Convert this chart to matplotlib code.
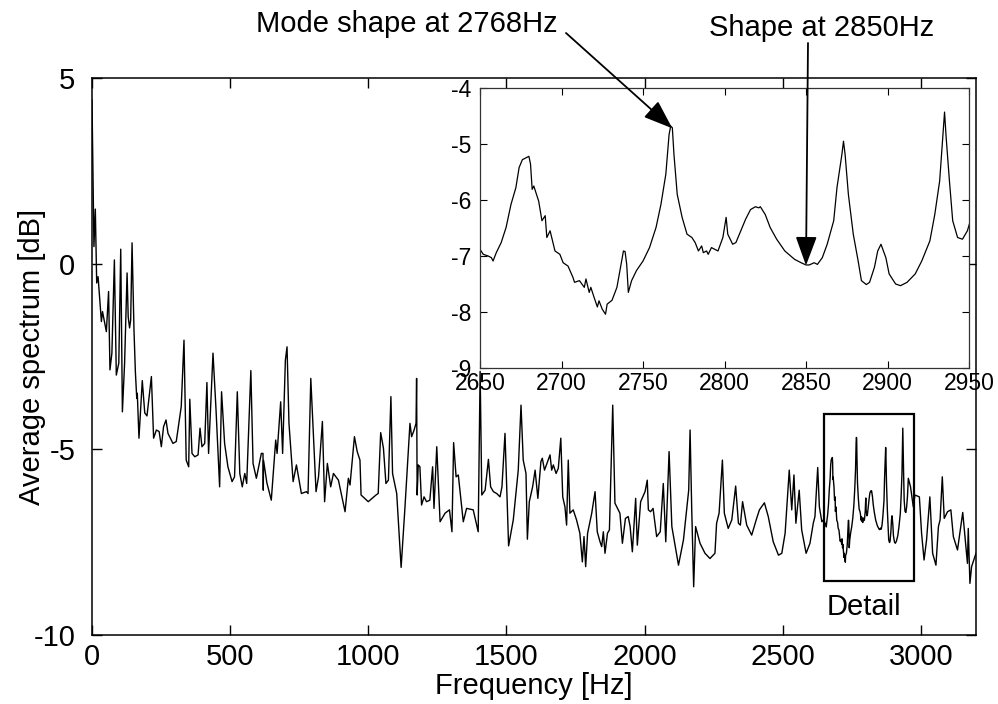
import matplotlib
matplotlib.use("Agg")
import matplotlib.pyplot as plt
from matplotlib.patches import Rectangle

plt.rcParams['font.family'] = ['Liberation Sans', 'DejaVu Sans']
plt.rcParams['axes.unicode_minus'] = False

# averaged spectrum (Hz, dB)
freq = [0, 7, 12, 17, 22, 34, 38, 52, 60, 65, 72, 81, 88, 97, 104, 110, 118, 127, 131, 136,
        140, 145, 152, 157, 162, 164, 170, 182, 191, 199, 215, 223, 233, 243, 251, 259, 268, 275, 293, 305,
        323, 333, 341, 350, 354, 362, 372, 384, 391, 398, 408, 416, 422, 438, 449, 462, 469, 480, 492, 507,
        516, 526, 535, 544, 553, 560, 575, 583, 595, 613, 619, 620, 621, 633, 649, 665, 670, 683, 690, 700,
        706, 713, 728, 740, 758, 776, 782, 792, 811, 820, 834, 842, 852, 864, 874, 892, 916, 928, 934, 950,
        960, 970, 974, 1000, 1028, 1036, 1045, 1055, 1064, 1073, 1082, 1088, 1103, 1119, 1133, 1151, 1157, 1166, 1173, 1175,
        1177, 1181, 1187, 1193, 1202, 1211, 1223, 1233, 1238, 1248, 1260, 1278, 1294, 1303, 1309, 1318, 1326, 1344, 1356, 1380,
        1398, 1405, 1411, 1423, 1435, 1443, 1453, 1465, 1477, 1484, 1495, 1508, 1525, 1543, 1553, 1561, 1571, 1576, 1583, 1595,
        1604, 1614, 1625, 1630, 1638, 1645, 1658, 1664, 1670, 1680, 1688, 1697, 1704, 1712, 1718, 1724, 1730, 1742, 1754, 1766,
        1775, 1781, 1787, 1794, 1809, 1821, 1829, 1839, 1845, 1851, 1857, 1866, 1873, 1885, 1893, 1911, 1920, 1931, 1941, 1948,
        1956, 1968, 1974, 1986, 2002, 2010, 2014, 2022, 2031, 2044, 2057, 2068, 2077, 2089, 2099, 2123, 2141, 2160, 2165, 2171,
        2178, 2185, 2201, 2219, 2237, 2255, 2261, 2270, 2282, 2289, 2303, 2316, 2330, 2340, 2347, 2355, 2370, 2388, 2406, 2416,
        2434, 2448, 2466, 2485, 2497, 2509, 2515, 2524, 2533, 2541, 2548, 2560, 2569, 2585, 2599, 2611, 2617, 2627, 2633, 2642,
        # detail region 2650-2950
        2650, 2652, 2655, 2657, 2658, 2660, 2663, 2666, 2669, 2672, 2674, 2676, 2678, 2680, 2681, 2682, 2683, 2686, 2688, 2690,
        2691, 2693, 2696, 2699, 2701, 2704, 2707, 2708, 2711, 2714, 2715, 2717, 2718, 2720, 2722, 2723, 2725, 2727, 2728, 2731,
        2734, 2736, 2738, 2739, 2740, 2741, 2743, 2746, 2750, 2754, 2758, 2761, 2764, 2766, 2767, 2768, 2769, 2771, 2774, 2777,
        2780, 2782, 2784, 2786, 2787, 2789, 2790, 2792, 2794, 2796, 2799, 2801, 2802, 2805, 2807, 2810, 2813, 2816, 2819, 2821,
        2822, 2825, 2828, 2832, 2837, 2843, 2847, 2850, 2852, 2855, 2857, 2860, 2863, 2867, 2869, 2872, 2873, 2874, 2876, 2879,
        2882, 2884, 2887, 2889, 2892, 2894, 2896, 2899, 2901, 2905, 2908, 2912, 2917, 2921, 2926, 2929, 2932, 2934, 2935, 2936,
        2938, 2940, 2943, 2946, 2949, 2952,
        2955, 2963, 2973, 2979, 2995, 3003, 3012, 3021, 3033, 3043, 3055, 3064, 3070, 3078, 3085, 3097, 3109, 3118, 3133, 3152,
        3160, 3169, 3172, 3178, 3184, 3200]

spec = [4.41, 0.46, 1.47, -0.52, -0.35, -1.56, -1.29, -1.83, -0.75, -2.86, -2.41, 0.10, -3.00, -2.68, 0.39, -3.99, -2.68, -0.25, -1.43, -1.73,
        -1.52, 0.56, -1.79, -2.91, -3.63, -3.49, -4.70, -3.15, -4.02, -4.10, -3.04, -4.70, -4.48, -4.52, -4.93, -4.39, -4.21, -4.57, -4.84, -4.79,
        -3.85, -2.06, -5.29, -5.47, -3.65, -5.11, -5.20, -5.15, -4.43, -4.93, -4.84, -3.20, -5.11, -2.41, -3.94, -6.01, -3.45, -4.84, -5.47, -5.87,
        -5.74, -3.45, -5.65, -6.01, -5.65, -5.92, -2.88, -5.38, -5.78, -5.11, -5.11, -6.10, -5.30, -5.90, -6.37, -4.75, -5.11, -3.72, -5.11, -2.60,
        -2.24, -4.30, -5.87, -5.42, -6.19, -6.14, -6.19, -3.09, -6.14, -5.74, -4.25, -6.41, -5.38, -6.01, -5.65, -5.83, -6.68, -5.78, -5.96, -4.66,
        -5.06, -5.29, -6.23, -6.41, -6.23, -6.19, -4.55, -4.97, -5.92, -5.83, -3.58, -5.65, -6.19, -8.18, -6.55, -4.30, -4.66, -4.48, -4.30, -3.09,
        -6.23, -5.42, -5.47, -6.50, -6.28, -6.41, -6.37, -5.47, -6.59, -4.93, -6.95, -6.72, -6.63, -7.22, -4.82, -5.74, -5.69, -6.95, -6.59, -6.63,
        -7.22, -2.90, -6.23, -6.10, -5.27, -6.01, -6.14, -6.19, -6.28, -6.01, -4.57, -7.60, -6.90, -5.56, -3.81, -5.29, -5.65, -7.42, -6.41, -6.01,
        -5.56, -6.32, -5.33, -5.24, -5.56, -5.42, -5.15, -5.56, -5.42, -5.65, -5.51, -4.70, -6.28, -6.55, -7.04, -5.29, -6.72, -6.63, -6.90, -7.26,
        -8.03, -7.35, -8.16, -7.26, -6.72, -6.14, -7.22, -7.49, -7.62, -7.22, -7.80, -7.26, -7.17, -3.81, -6.45, -6.72, -7.53, -6.86, -6.81, -7.08,
        -7.76, -6.32, -7.58, -6.41, -6.14, -5.83, -6.63, -6.68, -6.59, -7.35, -7.22, -5.92, -7.49, -5.06, -7.08, -8.12, -7.44, -6.10, -4.48, -6.63,
        -8.70, -7.08, -7.53, -7.80, -7.94, -7.80, -6.99, -6.72, -5.29, -6.72, -7.13, -6.90, -5.99, -6.99, -7.04, -6.41, -7.04, -7.31, -6.86, -6.63,
        -6.44, -6.81, -7.49, -7.85, -7.80, -7.26, -6.59, -5.56, -6.63, -5.69, -6.99, -6.10, -7.17, -7.80, -7.53, -6.99, -6.81, -5.49, -6.55, -6.95,
        -6.88, -6.97, -7.00, -7.03, -7.09, -6.94, -6.76, -6.49, -6.08, -5.78, -5.42, -5.28, -5.25, -5.22, -5.36, -5.81, -5.75, -6.02, -6.37, -6.28,
        -6.67, -6.55, -6.91, -6.97, -7.12, -7.18, -7.38, -7.47, -7.44, -7.56, -7.41, -7.65, -7.56, -7.74, -7.91, -7.80, -7.95, -8.04, -7.86, -7.79,
        -7.56, -7.23, -6.91, -6.92, -7.15, -7.65, -7.44, -7.26, -7.09, -6.85, -6.49, -6.08, -5.54, -4.83, -4.68, -4.71, -5.19, -5.90, -6.31, -6.61,
        -6.67, -6.76, -6.91, -6.82, -6.94, -6.91, -6.97, -6.85, -6.88, -6.91, -6.67, -6.31, -6.61, -6.79, -6.76, -6.55, -6.34, -6.17, -6.12, -6.14,
        -6.12, -6.26, -6.49, -6.70, -6.91, -7.06, -7.12, -7.16, -7.16, -7.12, -7.15, -7.03, -6.79, -6.37, -5.78, -5.19, -4.95, -5.19, -5.90, -6.61,
        -7.09, -7.44, -7.51, -7.47, -7.20, -6.91, -6.79, -7.03, -7.32, -7.50, -7.53, -7.47, -7.32, -7.09, -6.73, -6.26, -5.66, -4.83, -4.43, -4.89,
        -5.66, -6.37, -6.67, -6.70, -6.55, -6.26,
        -5.78, -6.01, -6.55, -6.23, -6.28, -7.26, -7.98, -7.44, -6.28, -7.80, -8.12, -7.08, -6.90, -5.74, -6.86, -6.68, -6.63, -7.35, -7.71, -6.70,
        -7.35, -8.07, -7.13, -8.61, -8.16, -7.80]

x_ticks = [0, 500, 1000, 1500, 2000, 2500, 3000]
y_ticks = [-10, -5, 0, 5]
inset_x_ticks = [2650, 2700, 2750, 2800, 2850, 2900, 2950]
inset_y_ticks = [-9, -8, -7, -6, -5, -4]

W, H = 998, 704
fig = plt.figure(figsize=(W / 100, H / 100), dpi=100)

# main axes
ax = fig.add_axes([92 / W, 1 - 635 / H, 884 / W, 557 / H])
ax.plot(freq, spec, color='k', lw=1.0)
ax.set_xlim(0, 3200)
ax.set_ylim(-10, 5)
ax.set_xticks(x_ticks)
ax.set_yticks(y_ticks)
ax.tick_params(direction='in', top=True, right=True, length=7, width=1, labelsize=21)
ax.tick_params(axis='x', pad=6)
ax.tick_params(axis='y', pad=12)
for s in ax.spines.values():
    s.set_linewidth(1.1)
ax.set_xlabel('Frequency [Hz]', fontsize=21)
ax.set_ylabel('Average spectrum [dB]', fontsize=21)
ax.xaxis.set_label_coords(0.5, -0.066)
ax.yaxis.set_label_coords(-0.052, 0.5)

# detail box
ax.add_patch(Rectangle((2650, -8.55), 325, 4.5, fill=False, ec='k', lw=1.6))
ax.text(2795, -9.25, 'Detail', fontsize=21, ha='center', va='center')

# inset zoom
ax_in = fig.add_axes([480 / W, 1 - 368 / H, 489 / W, 280 / H])
ax_in.plot(freq, spec, color='k', lw=0.9)
ax_in.set_xlim(2650, 2950)
ax_in.set_ylim(-9, -4)
ax_in.set_xticks(inset_x_ticks)
ax_in.set_yticks(inset_y_ticks)
ax_in.tick_params(direction='in', top=True, right=True, length=5, width=0.8, labelsize=16.5)
ax_in.tick_params(axis='x', pad=3)
ax_in.tick_params(axis='y', pad=6)
for s in ax_in.spines.values():
    s.set_linewidth(0.9)
    s.set_color('#333333')

# arrows + labels
arrow_kw = dict(arrowstyle='-|>,head_length=0.9,head_width=0.33', color='k', lw=1.3,
                shrinkA=0, shrinkB=0, mutation_scale=20)
ax_in.annotate('', xy=(2768, -4.72), xycoords='data', xytext=(566, H - 33),
               textcoords='figure pixels', arrowprops=arrow_kw, annotation_clip=False)
ax_in.annotate('', xy=(2850, -7.17), xycoords='data', xytext=(808, H - 43),
               textcoords='figure pixels', arrowprops=arrow_kw, annotation_clip=False)
fig.text(407 / W, 1 - 24 / H, 'Mode shape at 2768Hz', fontsize=21, ha='center', va='center')
fig.text(822 / W, 1 - 28 / H, 'Shape at 2850Hz', fontsize=21, ha='center', va='center')

fig.savefig('out.png', dpi=100)
